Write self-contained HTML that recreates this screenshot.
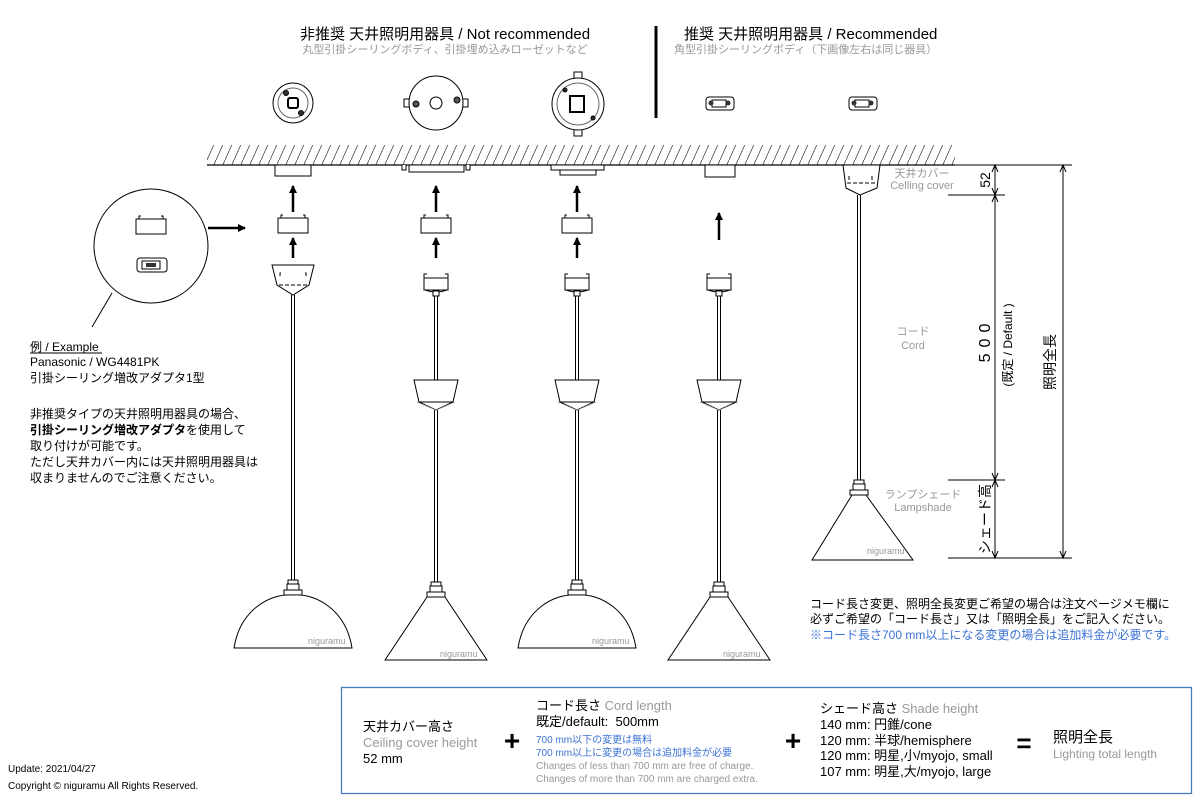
<!DOCTYPE html>
<html><head><meta charset="utf-8"><style>
body{margin:0;background:#fff;}
svg{display:block;font-family:"Liberation Sans","Noto Sans CJK JP",sans-serif;}
.g{fill:#999}
.b{fill:#3b73d6}
</style></head><body>
<svg width="1200" height="800" viewBox="0 0 1200 800" xmlns="http://www.w3.org/2000/svg">
<defs>
<pattern id="h" width="9" height="20" patternUnits="userSpaceOnUse">
<line x1="0" y1="20" x2="9" y2="0" stroke="#333" stroke-width="0.7"/>
</pattern>
<marker id="ah" markerWidth="8" markerHeight="8" refX="7" refY="4" orient="auto" markerUnits="userSpaceOnUse"><path d="M0,0 L8,4 L0,8 Z"/></marker>
<g id="adapter"><rect x="-15" y="0" width="30" height="15" fill="#fff" stroke="#000"/><path d="M-12,0 v-3 h2 M12,0 v-3 h-2" stroke="#000" fill="none"/></g>
<g id="hook"><path d="M-12,18 V6 h24 V18 Z" fill="#fff" stroke="#000"/><path d="M-12,6 v-4 h3 M12,6 v-4 h-3" fill="none" stroke="#000"/><path d="M-11,18 Q0,22 11,18" fill="none" stroke="#000"/><rect x="-3" y="19" width="6" height="5" fill="#fff" stroke="#000"/></g>
<g id="canopy"><path d="M-22,0 H22 L17,22 L0,30 L-17,22 L-22,0 Z" fill="#fff" stroke="#000"/><line x1="-17" y1="22" x2="17" y2="22" stroke="#000"/><path d="M-19,22 L0,30 L19,22" fill="none" stroke="#999" stroke-dasharray="2 1"/></g>
<g id="socket"><rect x="-5" y="0" width="10" height="4" fill="#fff" stroke="#000"/><rect x="-6" y="4" width="12" height="6" fill="#fff" stroke="#000"/><rect x="-9" y="10" width="18" height="5" fill="#fff" stroke="#000"/></g>
<g id="smallfix"><rect x="-14" y="-6" width="28" height="13" rx="3" fill="#fff" stroke="#000"/><rect x="-8" y="-3" width="14" height="7" fill="#fff" stroke="#000"/><circle cx="-9" cy="0" r="2.5" fill="#333"/><circle cx="8" cy="0" r="2.5" fill="#333"/></g>
</defs>

<text x="445" y="39" font-size="15" text-anchor="middle">非推奨 天井照明用器具 / Not recommended</text>
<text x="445" y="53" font-size="11" text-anchor="middle" class="g">丸型引掛シーリングボディ、引掛埋め込みローゼットなど</text>
<line x1="656" y1="26" x2="656" y2="118" stroke="#000" stroke-width="3"/>
<text x="684" y="39" font-size="15">推奨 天井照明用器具 / Recommended</text>
<text x="674" y="53" font-size="11" class="g">角型引掛シーリングボディ（下画像左右は同じ器具）</text>

<g fill="none" stroke="#000">
<circle cx="293" cy="103" r="20"/><circle cx="293" cy="103" r="15" stroke="#666"/>
<rect x="288" y="98" width="10" height="10" rx="2" stroke-width="2"/>
<circle cx="286" cy="93" r="2.5" fill="#333"/><circle cx="301" cy="113" r="2.5" fill="#333"/>
<circle cx="436" cy="103" r="27"/><circle cx="436" cy="103" r="6"/>
<path d="M409,99 h-5 v8 h5 M463,99 h5 v8 h-5"/>
<circle cx="416" cy="104" r="3" fill="#555"/><circle cx="457" cy="100" r="3" fill="#555"/>
<circle cx="578" cy="104" r="26"/><circle cx="578" cy="104" r="21" stroke="#666"/>
<path d="M574,78 v-6 h8 v6 M574,130 v6 h8 v-6"/>
<rect x="570" y="96" width="14" height="16" stroke-width="2"/>
<circle cx="565" cy="90" r="2" fill="#333"/><circle cx="593" cy="118" r="2" fill="#333"/>
</g>
<use href="#smallfix" x="720" y="103"/>
<use href="#smallfix" x="863" y="103"/>

<rect x="207" y="145" width="748" height="20" fill="url(#h)"/>
<line x1="207" y1="165" x2="955" y2="165" stroke="#000" stroke-width="1.2"/>
<g fill="#fff" stroke="#000">
<rect x="275" y="165" width="36" height="11"/>
<path d="M402,165 v5 h4 v-5 M466,165 v5 h4 v-5"/><rect x="409" y="165" width="55" height="7"/>
<rect x="551" y="165" width="53" height="5"/><rect x="560" y="170" width="36" height="5"/>
<rect x="705" y="165" width="30" height="12"/>
</g>

<!-- left circle -->
<circle cx="151" cy="246" r="57" fill="#fff" stroke="#000"/>
<line x1="112" y1="293" x2="92" y2="327" stroke="#000"/>
<use href="#adapter" x="151" y="219"/>
<rect x="137" y="258" width="30" height="14" rx="3" fill="#fff" stroke="#000"/>
<rect x="142" y="261" width="18" height="8" fill="#fff" stroke="#000"/>
<rect x="146" y="263" width="10" height="4" fill="#333"/>

<g stroke="#000" stroke-width="2.5" marker-end="url(#ah)">
<line x1="293" y1="212" x2="293" y2="186"/><line x1="293" y1="258" x2="293" y2="238"/>
<line x1="436" y1="212" x2="436" y2="186"/><line x1="436" y1="258" x2="436" y2="238"/>
<line x1="577" y1="212" x2="577" y2="186"/><line x1="577" y1="258" x2="577" y2="238"/>
<line x1="719" y1="240" x2="719" y2="213"/>
<line x1="208" y1="228" x2="245" y2="228"/>
</g>
<use href="#adapter" x="293" y="218"/>
<use href="#adapter" x="436" y="218"/>
<use href="#adapter" x="577" y="218"/>

<path d="M272,265 H314 L309,285 L293,295 L277,285 Z" fill="#fff" stroke="#000"/>
<path d="M279,285 H307 M280,276 v-3 h2 M306,276 v-3 h-2" fill="none" stroke="#000" stroke-dasharray="4 2"/>
<use href="#hook" x="436" y="272"/>
<use href="#hook" x="577" y="272"/>
<use href="#hook" x="719" y="272"/>

<g stroke="#000" fill="none">
<path d="M291.5,295 V580 M294.5,295 V580"/>
<path d="M434.5,296 V585 M437.5,296 V585"/>
<path d="M575.5,296 V580 M578.5,296 V580"/>
<path d="M717.5,296 V585 M720.5,296 V585"/>
<path d="M857.5,195 V480 M860.5,195 V480"/>
</g>
<use href="#canopy" x="436" y="380"/>
<use href="#canopy" x="577" y="380"/>
<use href="#canopy" x="719" y="380"/>

<use href="#socket" x="293" y="580"/>
<path d="M234,648 C240,610 270,593 293,595 C316,593 346,610 352,648 Z" fill="#fff" stroke="#000"/>
<use href="#socket" x="436" y="582"/>
<path d="M385,660 L427,597 H445 L487,660 Z" fill="#fff" stroke="#000"/>
<use href="#socket" x="577" y="580"/>
<path d="M518,648 C524,610 554,593 577,595 C600,593 630,610 636,648 Z" fill="#fff" stroke="#000"/>
<use href="#socket" x="719" y="582"/>
<path d="M668,660 L710,597 H728 L770,660 Z" fill="#fff" stroke="#000"/>
<use href="#socket" x="859" y="480"/>
<path d="M812,560 L852,495 H866 L913,560 Z" fill="#fff" stroke="#000"/>
<g font-size="9" class="g">
<text x="308" y="644">niguramu</text><text x="440" y="657">niguramu</text>
<text x="592" y="644">niguramu</text><text x="723" y="657">niguramu</text><text x="867" y="554">niguramu</text>
</g>

<path d="M843,165 H880 L877,188 L860,195 L846,188 Z" fill="#fff" stroke="#000"/>
<path d="M847,183 H876 M849,180 v-5 M872,180 v-5" fill="none" stroke="#000" stroke-dasharray="4 2"/>

<g stroke="#000" fill="none">
<line x1="880" y1="165" x2="1072" y2="165"/>
<line x1="948" y1="195" x2="1005" y2="195"/>
<line x1="948" y1="480" x2="1005" y2="480"/>
<line x1="948" y1="558" x2="1072" y2="558"/>
<line x1="995" y1="165" x2="995" y2="558"/>
<line x1="1063" y1="165" x2="1063" y2="558"/>
<path d="M992,172 L995,165 L998,172 M992,188 L995,195 L998,188 M992,202 L995,195 L998,202 M992,473 L995,480 L998,473 M992,487 L995,480 L998,487 M992,551 L995,558 L998,551 M1060,172 L1063,165 L1066,172 M1060,551 L1063,558 L1066,551"/>
</g>
<g font-size="14">
<text transform="translate(990,180) rotate(-90)" text-anchor="middle">52</text>
<text transform="translate(990,340) rotate(-90)" text-anchor="middle" font-size="16" letter-spacing="6">500</text>
<text transform="translate(1012,345) rotate(-90)" text-anchor="middle" font-size="12">(既定 / Default )</text>
<text transform="translate(1055,362) rotate(-90)" text-anchor="middle">照明全長</text>
<text transform="translate(990,519) rotate(-90)" text-anchor="middle">シェード高</text>
</g>
<g font-size="11" class="g" text-anchor="middle">
<text x="922" y="177">天井カバー</text><text x="922" y="189">Celling cover</text>
<text x="913" y="335">コード</text><text x="913" y="349">Cord</text>
<text x="923" y="498">ランプシェード</text><text x="923" y="511">Lampshade</text>
</g>

<g font-size="12">
<text x="30" y="351">例 / Example</text>
<line x1="30" y1="353" x2="102" y2="353" stroke="#000"/>
<text x="30" y="366">Panasonic / WG4481PK</text>
<text x="30" y="382">引掛シーリング増改アダプタ1型</text>
<text x="30" y="418">非推奨タイプの天井照明用器具の場合、</text>
<text x="30" y="434"><tspan font-weight="bold">引掛シーリング増改アダプタ</tspan>を使用して</text>
<text x="30" y="450">取り付けが可能です。</text>
<text x="30" y="466">ただし天井カバー内には天井照明用器具は</text>
<text x="30" y="482">収まりませんのでご注意ください。</text>
</g>

<g font-size="12">
<text x="810" y="608">コード長さ変更、照明全長変更ご希望の場合は注文ページメモ欄に</text>
<text x="810" y="623">必ずご希望の「コード長さ」又は「照明全長」をご記入ください。</text>
<text x="810" y="639" class="b">※コード長さ700 mm以上になる変更の場合は追加料金が必要です。</text>
</g>

<g font-size="10"><text x="8" y="772">Update: 2021/04/27</text><text x="8" y="789">Copyright © niguramu All Rights Reserved.</text></g>

<rect x="341.5" y="687.5" width="850" height="106" fill="none" stroke="#4a7cc4" stroke-width="1.3"/>
<text x="363" y="731" font-size="13">天井カバー高さ</text>
<text x="363" y="747" font-size="13" class="g">Ceiling cover height</text>
<text x="363" y="763" font-size="13">52 mm</text>
<text x="512" y="750" font-size="28" font-weight="bold" text-anchor="middle">+</text>
<text x="536" y="710" font-size="13">コード長さ <tspan class="g">Cord length</tspan></text>
<text x="536" y="726" font-size="13">既定/default:&#160; 500mm</text>
<text x="536" y="743" font-size="10" class="b">700 mm以下の変更は無料</text>
<text x="536" y="756" font-size="10" class="b">700 mm以上に変更の場合は追加料金が必要</text>
<text x="536" y="769" font-size="10" class="g">Changes of less than 700 mm are free of charge.</text>
<text x="536" y="782" font-size="10" class="g">Changes of more than 700 mm are charged extra.</text>
<text x="793" y="750" font-size="28" font-weight="bold" text-anchor="middle">+</text>
<g font-size="13">
<text x="820" y="713">シェード高さ <tspan class="g">Shade height</tspan></text>
<text x="820" y="729">140 mm: 円錐/cone</text>
<text x="820" y="745">120 mm: 半球/hemisphere</text>
<text x="820" y="760">120 mm: 明星,小/myojo, small</text>
<text x="820" y="776">107 mm: 明星,大/myojo, large</text>
</g>
<text x="1024" y="752" font-size="26" font-weight="bold" text-anchor="middle">=</text>
<text x="1053" y="742" font-size="15">照明全長</text>
<text x="1053" y="758" font-size="12" class="g">Lighting total length</text>
</svg>
</body></html>
